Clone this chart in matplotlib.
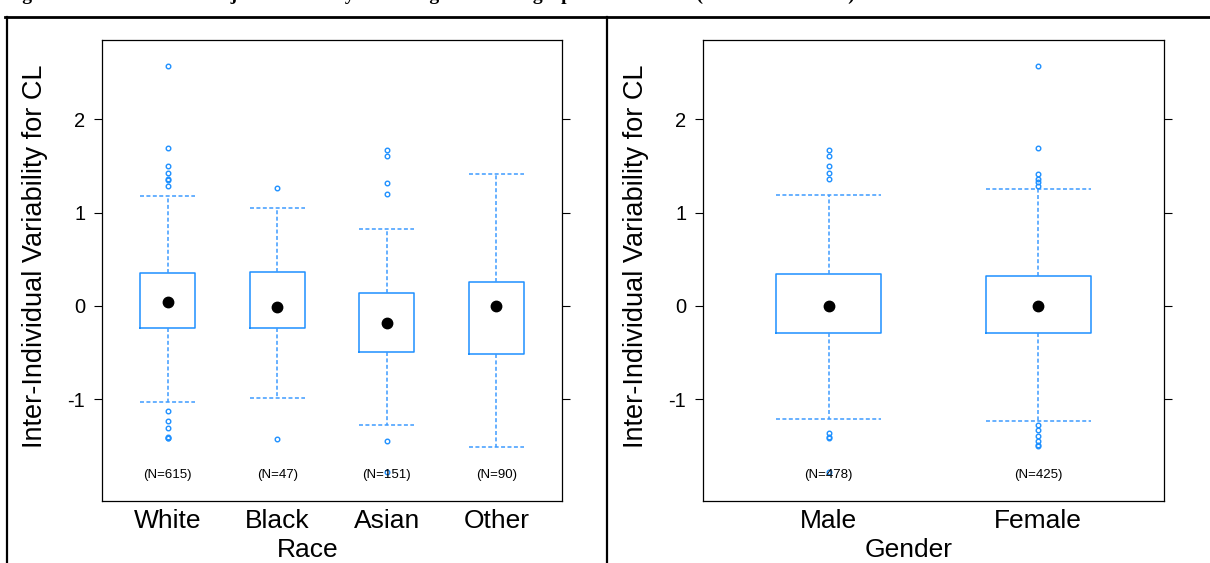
import matplotlib
matplotlib.use("Agg")
import matplotlib.pyplot as plt
from matplotlib.lines import Line2D

plt.rcParams["font.family"] = ["Liberation Sans", "DejaVu Sans"]

# race panel
race_cats = ["White", "Black", "Asian", "Other"]
race_n = [615, 47, 151, 90]
race_med = [0.04, -0.01, -0.18, 0.0]
race_q1 = [-0.24, -0.24, -0.49, -0.52]
race_q3 = [0.35, 0.36, 0.14, 0.26]
race_lo = [-1.03, -0.99, -1.28, -1.51]
race_hi = [1.18, 1.05, 0.82, 1.41]
race_fliers = [
    [2.57, 1.69, 1.50, 1.43, 1.36, 1.35, 1.29, -1.13, -1.23, -1.31, -1.40, -1.41, -1.42],
    [1.26, -1.43],
    [1.67, 1.61, 1.32, 1.20, -1.45, -1.78],
    [],
]

# gender panel
gender_cats = ["Male", "Female"]
gender_n = [478, 425]
gender_med = [0.0, 0.0]
gender_q1 = [-0.29, -0.29]
gender_q3 = [0.34, 0.32]
gender_lo = [-1.21, -1.23]
gender_hi = [1.19, 1.25]
gender_fliers = [
    [1.67, 1.61, 1.50, 1.43, 1.36, -1.36, -1.40, -1.41, -1.78],
    [2.57, 1.69, 1.41, 1.36, 1.33, 1.29, -1.28, -1.33, -1.39, -1.45, -1.49, -1.50],
]

BLUE = "#1E90FF"
W, H = 1210, 563

fig = plt.figure(figsize=(W / 100, H / 100), dpi=100)


def panel(rect, cats, n, med, q1, q3, lo, hi, fliers, xlab):
    ax = fig.add_axes(rect)
    stats = []
    for i in range(len(cats)):
        stats.append(dict(med=med[i], q1=q1[i], q3=q3[i], whislo=lo[i],
                          whishi=hi[i], fliers=fliers[i], label=cats[i]))
    pos = list(range(1, len(cats) + 1))
    ax.bxp(stats, positions=pos, widths=0.5, capwidths=0.5,
           boxprops=dict(color=BLUE, lw=1.1),
           whiskerprops=dict(color="#3d9bff", lw=1.1, linestyle=(0, (2.6, 1.6))),
           capprops=dict(color="#3d9bff", lw=1.1, linestyle=(0, (2.6, 1.6))),
           medianprops=dict(linestyle="none"),
           flierprops=dict(marker="o", markersize=3.3, markerfacecolor="none",
                           markeredgecolor=BLUE, markeredgewidth=1.0))
    ax.plot(pos, med, "o", color="black", markersize=7.5, zorder=5)
    for p, k in zip(pos, n):
        ax.text(p, -1.81, f"(N={k})", ha="center", va="center", fontsize=9.5)
    ax.set_xlim(0.4, len(cats) + 0.6)
    ax.set_ylim(-2.09, 2.85)
    ax.set_yticks([-1, 0, 1, 2])
    ax.set_yticklabels(["-1", "0", "1", "2"])
    ax.tick_params(axis="y", left=True, right=True, labelleft=True, direction="out",
                   length=6, width=0.8, labelsize=14.5, pad=6)
    ax.tick_params(axis="x", bottom=False, labelsize=19, pad=2)
    for s in ax.spines.values():
        s.set_linewidth(0.9)
    ax.set_ylabel("Inter-Individual Variability for CL", fontsize=19.5)
    ax.yaxis.set_label_coords(-0.118, 0.53)
    ax.set_xlabel(xlab, fontsize=19)
    ax.xaxis.set_label_coords(0.447, -0.08)
    return ax


panel([102 / W, 1 - 501 / H, 460 / W, 461 / H], race_cats, race_n, race_med,
      race_q1, race_q3, race_lo, race_hi, race_fliers, "Race")
panel([703 / W, 1 - 501 / H, 461 / W, 461 / H], gender_cats, gender_n, gender_med,
      gender_q1, gender_q3, gender_lo, gender_hi, gender_fliers, "Gender")

# table frame around the two panels
fig.add_artist(Line2D([5 / W, 1], [1 - 17 / H] * 2, transform=fig.transFigure,
                      color="black", lw=2))
for x in [7, 607]:
    fig.add_artist(Line2D([x / W] * 2, [0, 1 - 17 / H], transform=fig.transFigure,
                          color="black", lw=1.6))

# caption, cut off at the top edge
fig.text(5 / W, 1.0,
         "Figure 3: Plots of Inter-subject Variability for CL against Demographic Covariates (Race and Gender) for the Final Model",
         ha="left", va="baseline", fontsize=14, fontweight="bold",
         family=["Liberation Serif", "DejaVu Serif"])

fig.savefig("out.png", dpi=100)
